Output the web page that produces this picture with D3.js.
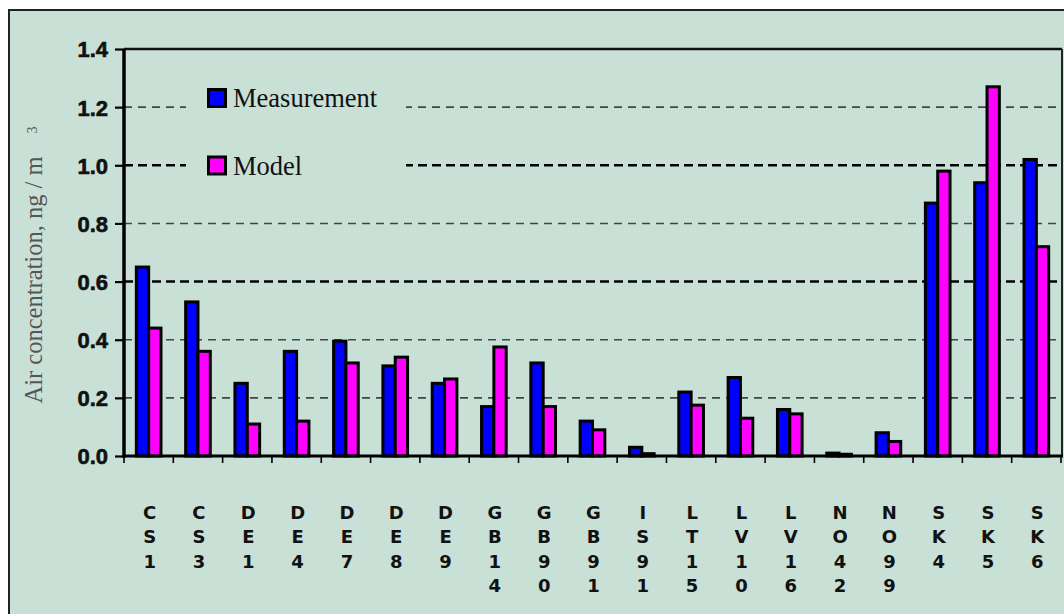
<!DOCTYPE html>
<html>
<head>
<meta charset="utf-8">
<script src="https://cdn.jsdelivr.net/npm/d3@7/dist/d3.min.js"></script>
<style>
  html, body { margin: 0; padding: 0; background: #ffffff; }
  svg { display: block; }
</style>
</head>
<body>
<svg id="chart" width="1064" height="614"></svg>
<script>
const categories = ["CS1","CS3","DE1","DE4","DE7","DE8","DE9","GB14","GB90","GB91","IS91","LT15","LV10","LV16","NO42","NO99","SK4","SK5","SK6"];
const measurement = [0.65,0.53,0.25,0.36,0.395,0.31,0.25,0.17,0.32,0.12,0.03,0.22,0.27,0.16,0.01,0.08,0.87,0.94,1.02];
const model = [0.44,0.36,0.11,0.12,0.32,0.34,0.265,0.375,0.17,0.09,0.008,0.175,0.13,0.145,0.006,0.05,0.98,1.27,0.72];
const yTicks = [0,0.2,0.4,0.6,0.8,1.0,1.2,1.4];
const seriesNames = ["Measurement","Model"];
const seriesColors = ["#0000ff","#ff00ff"];
const yTitle = "Air concentration, ng / m";
const yTitleSup = "3";

const svg = d3.select("#chart");
const bg = "#c9e0d7";

// outer panel
svg.append("rect").attr("x", 9).attr("y", 10).attr("width", 1064).attr("height", 614)
  .attr("fill", bg).attr("stroke", "#222").attr("stroke-width", 2);

const L = 124, R = 1061, T = 49, B = 456;
const x = d3.scaleBand().domain(categories).range([L, R]);
const y = d3.scaleLinear().domain([0, 1.4]).range([B, T]);

const isMajor = d => Math.abs(d - 0.6) < 1e-6 || Math.abs(d - 1.0) < 1e-6;

// gridlines
const gridVals = yTicks.filter(v => v > 0 && v < 1.4);
svg.append("g").selectAll("line").data(gridVals).join("line")
  .attr("x1", L).attr("x2", R)
  .attr("y1", d => y(d)).attr("y2", d => y(d))
  .attr("stroke", d => isMajor(d) ? "#000" : "#444")
  .attr("stroke-width", d => isMajor(d) ? 2.6 : 1.6)
  .attr("stroke-dasharray", d => isMajor(d) ? "9,5" : "8,6");

// legend mask
svg.append("rect").attr("x", 186).attr("y", 70).attr("width", 220).attr("height", 120).attr("fill", bg);

// plot frame top & right
svg.append("line").attr("x1", L).attr("x2", R + 1).attr("y1", y(1.4)).attr("y2", y(1.4))
  .attr("stroke", "#111").attr("stroke-width", 2.6);
svg.append("line").attr("x1", R + 1).attr("x2", R + 1).attr("y1", y(1.4)).attr("y2", B)
  .attr("stroke", "#222").attr("stroke-width", 2);

// bars
const bw = x.bandwidth() * 0.25;
const rows = categories.map((c, i) => ({c, m: measurement[i], p: model[i]}));
const g = svg.append("g");
g.selectAll("rect.meas").data(rows).join("rect").attr("class", "meas")
  .attr("x", d => x(d.c) + x.bandwidth() / 2 - bw)
  .attr("y", d => y(d.m)).attr("width", bw).attr("height", d => B - y(d.m))
  .attr("fill", seriesColors[0]).attr("stroke", "#000").attr("stroke-width", 3);
g.selectAll("rect.mod").data(rows).join("rect").attr("class", "mod")
  .attr("x", d => x(d.c) + x.bandwidth() / 2)
  .attr("y", d => y(d.p)).attr("width", bw).attr("height", d => B - y(d.p))
  .attr("fill", seriesColors[1]).attr("stroke", "#000").attr("stroke-width", 3);

// y axis
const yAxis = svg.append("g").attr("transform", `translate(${L},0)`)
  .call(d3.axisLeft(y).tickValues(yTicks).tickFormat(d3.format(".1f")).tickSize(9).tickPadding(7));
yAxis.select(".domain").attr("stroke", "#000").attr("stroke-width", 3.5).attr("d", `M0,${T}V${B + 1.5}`);
yAxis.selectAll(".tick line").attr("stroke", "#000").attr("stroke-width", 2.2);
yAxis.selectAll(".tick text").attr("font-family", "'Liberation Sans', Arial, sans-serif")
  .attr("font-weight", "bold").attr("font-size", 22).attr("fill", "#111")
  .attr("stroke", "#111").attr("stroke-width", 0.6).attr("dy", "0.36em");

// x baseline and ticks
svg.append("line").attr("x1", L - 1.5).attr("x2", R + 2).attr("y1", B).attr("y2", B)
  .attr("stroke", "#000").attr("stroke-width", 3.2);
const bounds = categories.map(c => x(c)).concat([R]);
svg.append("g").selectAll("line").data(bounds).join("line")
  .attr("x1", d => d).attr("x2", d => d).attr("y1", B).attr("y2", B + 7)
  .attr("stroke", "#000").attr("stroke-width", 1.6);

// category labels (stacked characters)
const lab = svg.append("g").attr("font-family", "'DejaVu Sans', Verdana, sans-serif")
  .attr("font-weight", "bold").attr("font-size", 18).attr("fill", "#111").attr("text-anchor", "middle");
categories.forEach(c => {
  const cx = x(c) + x.bandwidth() / 2 + 1;
  c.split("").forEach((ch, k) => {
    lab.append("text").attr("x", cx).attr("y", 518.5 + k * 24.5).text(ch);
  });
});

// y title
svg.append("text").attr("transform", "translate(42,280) rotate(-90)")
  .attr("text-anchor", "middle").attr("font-family", "'Liberation Serif', 'Times New Roman', serif")
  .attr("font-size", 24.5).attr("fill", "#555").text(yTitle);
svg.append("text").attr("transform", "translate(37,130) rotate(-90)")
  .attr("text-anchor", "middle").attr("font-family", "'Liberation Serif', 'Times New Roman', serif")
  .attr("font-size", 14).attr("fill", "#555").text(yTitleSup);

// legend
const leg = svg.append("g");
const legY = [89.5, 157];
seriesNames.forEach((n, i) => {
  leg.append("rect").attr("x", 208.5).attr("y", legY[i]).attr("width", 17).attr("height", 17)
    .attr("fill", seriesColors[i]).attr("stroke", "#000").attr("stroke-width", 3);
  leg.append("text").attr("x", 233).attr("y", legY[i] + 17.5)
    .attr("font-family", "'Liberation Serif', 'Times New Roman', serif")
    .attr("font-size", 26.5).attr("fill", "#111").text(n);
});
</script>
</body>
</html>
